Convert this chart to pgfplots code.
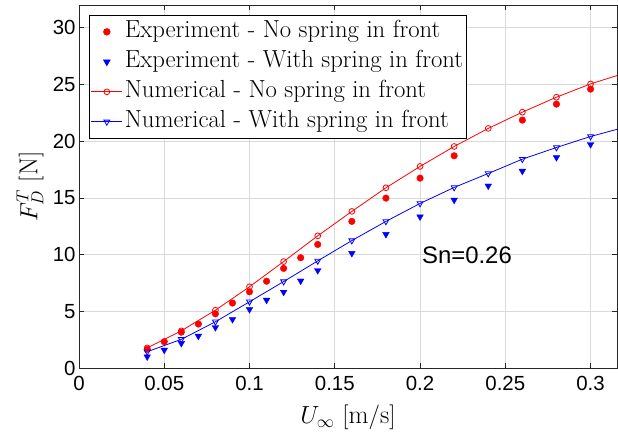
\documentclass[border=0pt]{standalone}
\usepackage{fontspec}
\newfontfamily\helv{Liberation Sans}
\usepackage{pgfplots}
\pgfplotsset{compat=1.18}

\definecolor{gridgray}{gray}{0.85}
\definecolor{axgray}{gray}{0.15}

\begin{document}
\begin{tikzpicture}
\begin{axis}[
  scale only axis,
  width=538bp, height=363.3bp,
  xmin=0, xmax=0.3155, ymin=0, ymax=32,
  xtick={0,0.05,0.1,0.15,0.2,0.25,0.3},
  xticklabels={0,0.05,0.1,0.15,0.2,0.25,0.3},
  ytick={0,5,10,15,20,25,30},
  yticklabels={0,5,10,15,20,25,30},
  tick label style={font=\helv\fontsize{20.5}{24}\selectfont},
  xticklabel style={yshift=-4bp},
  grid=major,
  major grid style={gridgray, line width=0.7bp},
  axis line style={axgray, line width=0.7bp},
  tick style={axgray, line width=0.7bp},
  tick align=inside,
  tick pos=both,
  major tick length=5bp,
  xlabel={$U_\infty\ [\mathrm{m/s}]$},
  ylabel={$F_D^T\ [\mathrm{N}]$},
  label style={font=\fontsize{26}{30}\selectfont},
  xlabel style={at={(axis description cs:0.5,-0.135)}, anchor=center},
  ylabel style={at={(axis description cs:-0.091,0.5)}, anchor=center},
  legend style={
    at={(axis description cs:0.0186,0.9725)}, anchor=north west,
    font=\fontsize{24.8}{29}\selectfont,
    draw=black, line width=0.7bp, fill=white,
    inner xsep=1.5bp, inner ysep=2bp,
    row sep=1bp,
    nodes={inner sep=2bp, text height=18.5bp, text depth=6.5bp},
  },
  legend cell align=left,
]
\coordinate (bl) at (rel axis cs:0,0);
\coordinate (tr) at (rel axis cs:1,1);

% experiment, no spring in front
\addplot[only marks, mark=*, color=red, mark size=3.3bp,
  legend image code/.code={\draw[only marks] plot coordinates {(0.55cm,0cm)};}]
coordinates {
(0.04,1.67) (0.05,2.34) (0.06,3.18) (0.07,3.90) (0.08,4.80) (0.09,5.75)
(0.10,6.74) (0.11,7.67) (0.12,8.80) (0.13,9.74) (0.14,10.91) (0.16,12.94)
(0.18,14.99) (0.20,16.75) (0.22,18.72) (0.26,21.86) (0.28,23.27) (0.30,24.59)
};
\addlegendentry{Experiment - No spring in front}

% experiment, with spring in front
\addplot[only marks, mark=triangle*, color=blue, mark size=3.8bp,
  mark options={rotate=180},
  legend image code/.code={\draw[only marks] plot coordinates {(0.55cm,0cm)};}]
coordinates {
(0.04,1.02) (0.05,1.61) (0.06,2.20) (0.07,2.84) (0.08,3.60) (0.09,4.31)
(0.10,5.19) (0.11,6.01) (0.12,6.71) (0.13,7.70) (0.14,8.62) (0.16,10.13)
(0.18,11.80) (0.20,13.35) (0.22,14.82) (0.24,16.07) (0.26,17.37) (0.28,18.57)
(0.30,19.72)
};
\addlegendentry{Experiment - With spring in front}

% numerical, no spring in front
\addplot[color=red, line width=0.8bp, mark=o, mark size=2.9bp,
  mark indices={1,...,14},
  legend image code/.code={\draw[mark indices={2}] plot coordinates {(0cm,0cm) (0.55cm,0cm) (1.1cm,0cm)};}]
coordinates {
(0.04,1.80) (0.06,3.30) (0.08,5.12) (0.10,7.18) (0.12,9.40) (0.14,11.67)
(0.16,13.82) (0.18,15.90) (0.20,17.78) (0.22,19.54) (0.24,21.13) (0.26,22.56)
(0.28,23.88) (0.30,25.05) (0.32,26.00)
};
\addlegendentry{Numerical - No spring in front}

% numerical, with spring in front
\addplot[color=blue, line width=0.8bp, mark=triangle, mark size=3.4bp,
  mark options={rotate=180},
  mark indices={1,...,14},
  legend image code/.code={\draw[mark indices={2}] plot coordinates {(0cm,0cm) (0.55cm,0cm) (1.1cm,0cm)};}]
coordinates {
(0.04,1.46) (0.06,2.55) (0.08,4.10) (0.10,5.86) (0.12,7.64) (0.14,9.46)
(0.16,11.25) (0.18,12.94) (0.20,14.52) (0.22,15.93) (0.24,17.16) (0.26,18.42)
(0.28,19.45) (0.30,20.42) (0.32,21.23)
};
\addlegendentry{Numerical - With spring in front}

\node[font=\helv\fontsize{24}{28}\selectfont, anchor=center]
  at (axis cs:0.2275,9.97) {Sn=0.26};
\end{axis}
\pgfresetboundingbox
\path[use as bounding box] ([xshift=-79bp,yshift=-71.7bp]bl) rectangle ([xshift=1bp,yshift=5bp]tr);
\end{tikzpicture}
\end{document}
